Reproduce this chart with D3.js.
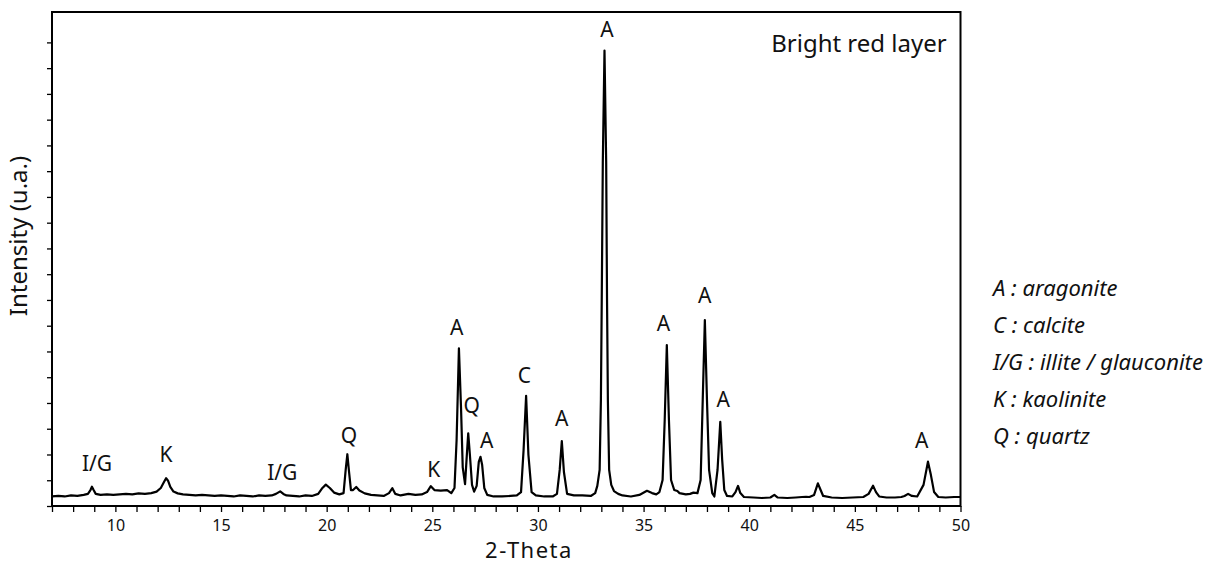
<!DOCTYPE html>
<html>
<head>
<meta charset="utf-8">
<script src="https://cdn.jsdelivr.net/npm/d3@7"></script>
<style>
  body { margin: 0; background: #fff; }
  text { font-family: "Noto Sans", sans-serif; fill: #111; }
</style>
</head>
<body>
<div id="chart"></div>
<script>
// XRD pattern, bright red layer (arbitrary counts)
var twoTheta = [7.00, 7.3, 7.6, 7.9, 8.2, 8.5, 8.7, 8.82, 8.89, 8.97, 9.07, 9.3, 9.6, 9.9, 10.2, 10.5, 10.8, 11.1, 11.4, 11.7,
  11.95, 12.15, 12.3, 12.40, 12.5, 12.6, 12.75, 12.95, 13.2, 13.5, 13.8, 14.1, 14.4, 14.7, 15.0, 15.3, 15.6, 15.9, 16.2, 16.5,
  16.8, 17.1, 17.4, 17.6, 17.8, 17.95, 18.1, 18.4, 18.7, 19.0, 19.3, 19.6, 19.8, 19.96, 20.15, 20.35, 20.6, 20.8, 20.9, 20.98,
  21.06, 21.15, 21.25, 21.4, 21.55, 21.8, 22.1, 22.4, 22.7, 22.95, 23.11, 23.25, 23.5, 23.87, 24.2, 24.5, 24.75, 24.93, 25.1, 25.4,
  25.7, 25.9, 26.05, 26.15, 26.26, 26.36, 26.44, 26.55, 26.62, 26.70, 26.78, 26.88, 26.98, 27.1, 27.2, 27.28, 27.36, 27.46, 27.6, 27.9,
  28.3, 28.7, 29.0, 29.2, 29.32, 29.44, 29.55, 29.7, 29.9, 30.3, 30.7, 30.9, 31.03, 31.13, 31.23, 31.38, 31.7, 32.1, 32.5, 32.71,
  32.81, 32.92, 32.98, 33.02, 33.07, 33.15, 33.23, 33.27, 33.31, 33.37, 33.47, 33.6, 33.8, 34.0, 34.4, 34.8, 35.16, 35.4, 35.6, 35.75,
  35.9, 36.0, 36.10, 36.2, 36.3, 36.45, 36.6, 36.7, 37.0, 37.2, 37.36, 37.55, 37.7, 37.8, 37.90, 38.0, 38.1, 38.25, 38.35, 38.5,
  38.63, 38.72, 38.82, 38.95, 39.2, 39.35, 39.47, 39.58, 39.75, 40.2, 40.6, 41.0, 41.19, 41.35, 41.8, 42.2, 42.5, 42.69, 42.85, 43.07,
  43.25, 43.38, 43.5, 43.9, 44.4, 44.9, 45.4, 45.65, 45.86, 46.0, 46.15, 46.5, 46.9, 47.2, 47.35, 47.52, 47.7, 47.95, 48.25, 48.46,
  48.6, 48.75, 48.95, 49.3, 49.7, 50.0];
var intensity = [37, 39, 37, 41, 39, 43, 47, 62, 75, 62, 47, 43, 45, 43, 45, 47, 45, 49, 47, 50,
  56, 70, 93, 108, 97, 74, 56, 49, 45, 43, 41, 43, 41, 39, 41, 39, 37, 41, 39, 37,
  41, 39, 41, 47, 57, 47, 41, 39, 37, 41, 39, 47, 70, 83, 70, 52, 45, 50, 140, 201,
  132, 62, 62, 74, 60, 49, 43, 41, 39, 50, 69, 47, 41, 47, 43, 45, 54, 77, 62, 60,
  62, 50, 70, 256, 612, 380, 150, 85, 179, 282, 198, 82, 56, 78, 171, 191, 159, 70, 43, 37,
  37, 39, 41, 54, 217, 428, 198, 54, 41, 37, 37, 47, 140, 252, 132, 47, 41, 41, 39, 50,
  78, 140, 412, 800, 1332, 1768, 1332, 800, 412, 140, 82, 58, 47, 41, 37, 43, 59, 50, 45, 54,
  101, 334, 625, 334, 101, 62, 58, 50, 45, 47, 52, 50, 101, 412, 722, 412, 140, 50, 37, 140,
  327, 179, 62, 39, 37, 54, 78, 50, 35, 33, 31, 33, 43, 33, 31, 33, 35, 36, 35, 43,
  88, 62, 39, 33, 31, 33, 35, 47, 79, 54, 37, 33, 33, 35, 39, 47, 39, 37, 82, 172,
  120, 54, 35, 33, 35, 35];

var peakLabels = ["I/G", "K", "I/G", "Q", "K", "A", "Q", "A", "C", "A", "A", "A", "A", "A", "A"];
var labelTheta = [9.13, 12.40, 17.9, 21.06, 25.07, 26.16, 26.87, 27.58, 29.36, 31.13, 33.27, 35.94, 37.89, 38.77, 48.16];
var labelIntensity = [137, 172, 101, 243, 111, 664, 360, 224, 476, 312, 1820, 681, 787, 386, 224];

var legendCodes = ["A", "C", "I/G", "K", "Q"];
var legendNames = ["aragonite", "calcite", "illite / glauconite", "kaolinite", "quartz"];

var xTickLabels = [10, 15, 20, 25, 30, 35, 40, 45, 50];

var W = 1225, H = 572;
var x = d3.scaleLinear().domain([7, 50]).range([52, 960.5]);
var y = d3.scaleLinear().domain([0, 1918]).range([506, 12]);

var svg = d3.select("#chart").append("svg")
    .attr("width", W)
    .attr("height", H);

svg.append("rect").attr("width", W).attr("height", H).attr("fill", "#fff");

// axes
var xAxis = d3.axisBottom(x)
    .tickValues(d3.range(7, 51))
    .tickFormat(function(d) { return xTickLabels.indexOf(d) >= 0 ? d : ""; })
    .tickSizeInner(6)
    .tickSizeOuter(0)
    .tickPadding(8);

var gx = svg.append("g")
    .attr("transform", "translate(0," + y(0) + ")")
    .call(xAxis);
gx.select(".domain").remove();
gx.selectAll("line").attr("stroke", "#000").attr("stroke-width", 1.3);
gx.selectAll("text").style("font-size", "16px").attr("fill", "#222");

var yAxis = d3.axisLeft(y)
    .tickValues(d3.range(0, 1801, 100))
    .tickFormat("")
    .tickSizeInner(5)
    .tickSizeOuter(0);

var gy = svg.append("g")
    .attr("transform", "translate(" + x(7) + ",0)")
    .call(yAxis);
gy.select(".domain").remove();
gy.selectAll("line").attr("stroke", "#000").attr("stroke-width", 1.3);

// frame
svg.append("rect")
    .attr("x", x(7))
    .attr("y", y(1918))
    .attr("width", x(50) - x(7))
    .attr("height", y(0) - y(1918))
    .attr("fill", "none")
    .attr("stroke", "#000")
    .attr("stroke-width", 2);

// pattern
var pts = twoTheta.map(function(t, i) { return [t, intensity[i]]; });
var line = d3.line()
    .x(function(d) { return x(d[0]); })
    .y(function(d) { return y(d[1]); });

svg.append("path")
    .datum(pts)
    .attr("d", line)
    .attr("fill", "none")
    .attr("stroke", "#000")
    .attr("stroke-width", 2.2)
    .attr("stroke-linejoin", "round");

// peak labels
svg.selectAll(".peak")
    .data(peakLabels)
    .enter().append("text")
    .attr("class", "peak")
    .attr("x", function(d, i) { return x(labelTheta[i]); })
    .attr("y", function(d, i) { return y(labelIntensity[i]); })
    .attr("text-anchor", "middle")
    .style("font-size", "21px")
    .text(function(d) { return d; });

svg.append("text")
    .attr("x", 946.7)
    .attr("y", 51.7)
    .attr("text-anchor", "end")
    .style("font-size", "24px")
    .text("Bright red layer");

// axis titles
svg.append("text")
    .attr("transform", "translate(27,236) rotate(-90)")
    .attr("text-anchor", "middle")
    .style("font-size", "24px")
    .text("Intensity (u.a.)");

svg.append("text")
    .attr("x", 529)
    .attr("y", 558)
    .attr("text-anchor", "middle")
    .style("font-size", "22px")
    .style("letter-spacing", "1.5px")
    .text("2-Theta");

// legend
svg.selectAll(".legend")
    .data(legendCodes)
    .enter().append("text")
    .attr("class", "legend")
    .attr("x", 993)
    .attr("y", function(d, i) { return 296 + i * 37; })
    .style("font-size", "22px")
    .style("font-style", "italic")
    .text(function(d, i) { return d + " : " + legendNames[i]; });
</script>
</body>
</html>
